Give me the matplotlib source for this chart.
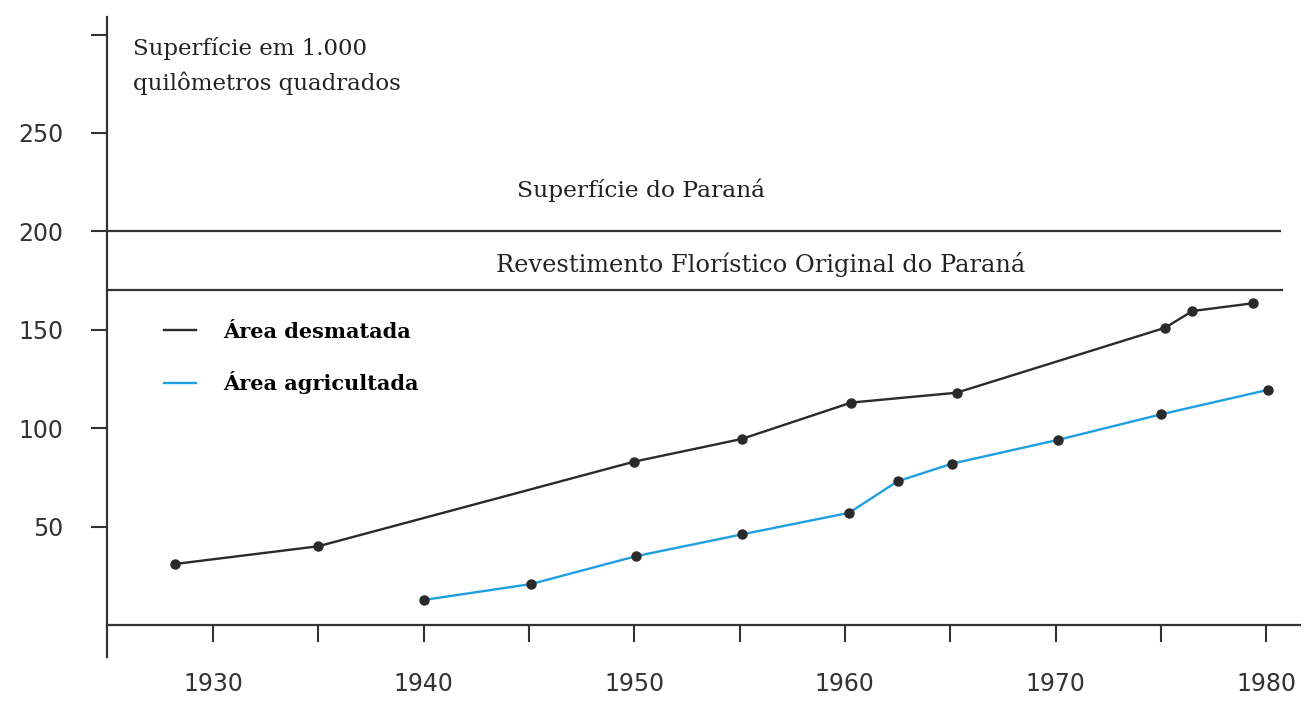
import numpy as np
import matplotlib.pyplot as plt

# superficie em 1.000 km2
anos_desm = [1928.2, 1935, 1950, 1955.1, 1960.3, 1965.3, 1975.2, 1976.5, 1979.4]
area_desm = [31, 40, 83, 94.5, 113, 118, 151, 159.5, 163.5]
anos_agri = [1940, 1945.1, 1950.1, 1955.1, 1960.2, 1962.5, 1965.1, 1970.1, 1975, 1980.1]
area_agri = [12.7, 20.8, 35, 46, 57, 73, 82, 94, 107, 119.5]

sup_parana = 200
rev_original = 170

xticks = [1930, 1935, 1940, 1945, 1950, 1955, 1960, 1965, 1970, 1975, 1980]
xlabels = ['1930', '', '1940', '', '1950', '', '1960', '', '1970', '', '1980']
yticks = [50, 100, 150, 200, 250, 300]
ylabels = ['50', '100', '150', '200', '250', '']

preto = '#2a2a2a'
azul = '#1e9fe3'
eixo = '#333333'
serif = 'DejaVu Serif'

fig = plt.figure(figsize=(13.1, 7.02), dpi=100)
ax = fig.add_axes([0.0817, 0.0641, 0.9107, 0.9117])
ax.set_xlim(1924.97, 1981.61)
ax.set_ylim(-16.26, 308.9)

for s in ['top', 'right']:
    ax.spines[s].set_visible(False)
ax.spines['left'].set_color(eixo)
ax.spines['left'].set_linewidth(1.6)
ax.spines['bottom'].set_position(('data', 0))
ax.spines['bottom'].set_color(eixo)
ax.spines['bottom'].set_linewidth(1.6)

ax.set_xticks(xticks)
ax.set_xticklabels(xlabels)
ax.set_yticks(yticks)
ax.set_yticklabels(ylabels)
ax.tick_params(axis='x', length=12, width=1.5, pad=22, labelsize=17, colors=eixo)
ax.tick_params(axis='y', length=11.5, width=1.5, pad=20, labelsize=17, colors=eixo)

# linhas de referencia
ax.axhline(sup_parana, xmin=0, xmax=0.983, color=eixo, lw=1.6)
ax.axhline(rev_original, xmin=0, xmax=0.985, color=eixo, lw=1.6)

ax.plot(anos_desm, area_desm, '-', color=preto, lw=1.7, label='Área desmatada')
ax.plot(anos_agri, area_agri, '-', color=azul, lw=1.7, label='Área agricultada')
ax.plot(anos_desm, area_desm, 'o', color=preto, ms=6.5)
ax.plot(anos_agri, area_agri, 'o', color=preto, ms=6.5)

ax.text(0.0218, 0.968, 'Superfície em 1.000\nquilômetros quadrados', transform=ax.transAxes,
        ha='left', va='top', fontsize=16.5, family=serif, color='#222', linespacing=1.6)
ax.text(1950.3, 221, 'Superfície do Paraná', ha='center', va='center',
        fontsize=16.8, family=serif, color='#222')
ax.text(1956.0, 183.4, 'Revestimento Florístico Original do Paraná', ha='center', va='center',
        fontsize=17.4, family=serif, color='#222')

ax.legend(loc='upper left', bbox_to_anchor=(0.048, 0.524), frameon=False,
          handlelength=1.5, handletextpad=1.3, labelspacing=1.4, borderpad=0, borderaxespad=0,
          prop=dict(family=serif, weight='bold', size=15))

fig.savefig('out.png', dpi=100)
